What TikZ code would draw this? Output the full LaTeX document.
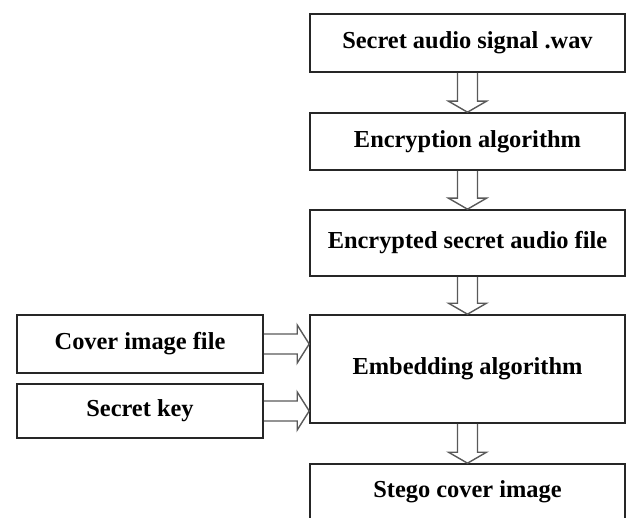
\documentclass[tikz,border=0pt]{standalone}
\usepackage{fontspec}
\setmainfont{Liberation Serif}
\usetikzlibrary{calc,positioning}

\definecolor{arrowgray}{rgb}{0.35, 0.35, 0.35}

%% hollow block arrows between two named boxes
\newcommand{\blockdown}[2]{%
\draw[hollow] ($(#1.south)+(-10,0)$) -- ($(#2.north)+(-10,-11)$) -- ($(#2.north)+(-19,-11)$) -- (#2.north)
  -- ($(#2.north)+(19,-11)$) -- ($(#2.north)+(10,-11)$) -- ($(#1.south)+(10,0)$);}
\newcommand{\blockright}[2]{%
\draw[hollow] ($(#1.east)+(0,-10)$) -- ($(#2.west |- #1.east)+(-12,-10)$) -- ($(#2.west |- #1.east)+(-12,-19)$) -- (#2.west |- #1.east)
  -- ($(#2.west |- #1.east)+(-12,19)$) -- ($(#2.west |- #1.east)+(-12,10)$) -- ($(#1.east)+(0,10)$);}

\begin{document}
\begin{tikzpicture}[x=0.5pt, y=-0.5pt]
\useasboundingbox (0,0) rectangle (626,518);
\tikzstyle{stepbox}=[draw=black!85, line width=0.8pt, rectangle, minimum width=157.5pt, text=black, font=\fontsize{12.2}{14}\selectfont\bfseries]
\tikzstyle{sidebox}=[stepbox, minimum width=123pt]
\tikzstyle{hollow}=[draw=arrowgray, line width=0.7pt, line join=miter]
%%
\node (audio) at (467.5, 43) [stepbox, minimum height=29pt] {Secret audio signal .wav};
\node (encr) at (467.5, 141.5) [stepbox, minimum height=28.5pt] {Encryption algorithm};
\node (encfile) at (467.5, 243) [stepbox, minimum height=33pt] {Encrypted secret audio file};
\node (embed) at (467.5, 369) [stepbox, minimum height=54pt] {Embedding algorithm};
\node (stego) at (467.5, 492) [stepbox, minimum height=28pt] {Stego cover image};

\node (cover) at (140, 344) [sidebox, minimum height=29pt] {Cover image file};
\node (key) at (140, 411) [sidebox, minimum height=27pt] {Secret key};

\blockdown{audio}{encr}
\blockdown{encr}{encfile}
\blockdown{encfile}{embed}
\blockdown{embed}{stego}

\blockright{cover}{embed}
\blockright{key}{embed}
\end{tikzpicture}
\end{document}
